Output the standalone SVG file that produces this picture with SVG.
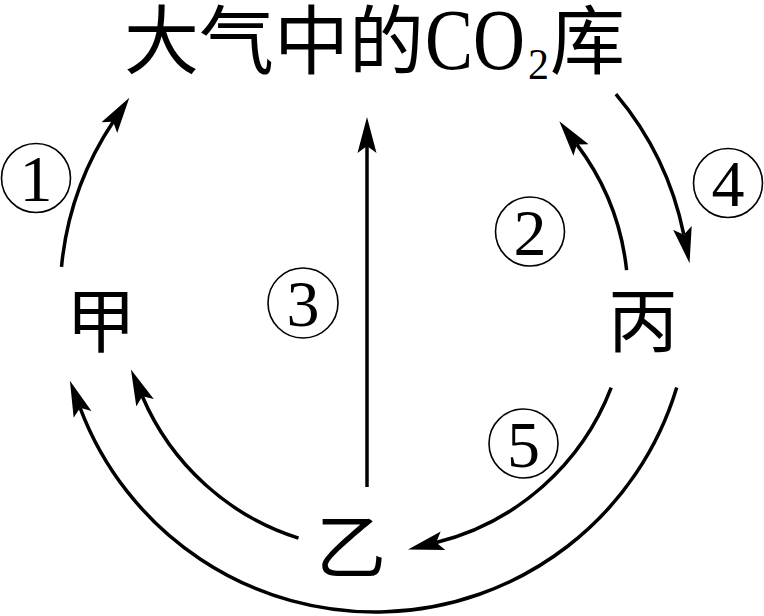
<svg xmlns="http://www.w3.org/2000/svg" width="764" height="616" viewBox="0 0 764 616">
<style>
.cjk{font-family:"Noto Sans CJK SC","Noto Sans CJK JP",sans-serif;fill:#000}
.lat{font-family:"Liberation Serif","Times New Roman",serif;fill:#000}
.conn{fill:none;stroke:#000;stroke-width:3.5;marker-end:url(#ah)}
.ring{fill:none;stroke:#000;stroke-width:1.6}
.num{font-family:"Liberation Serif","Times New Roman",serif;font-size:66px;text-anchor:middle;fill:#000}
</style>
<defs>
<marker id="ah" markerUnits="userSpaceOnUse" markerWidth="40" markerHeight="24" viewBox="0 -12 40 24" refX="7" refY="0" orient="auto">
<path d="M36,0 L0,-9.5 L7,0 L0,9.5 Z" fill="#000"/>
</marker>
</defs>
<rect width="764" height="616" fill="#fff"/>
<g id="atm">
<text class="cjk" x="124" y="68" font-size="75">大气中的</text>
<text class="lat" x="425" y="69" font-size="86" textLength="100" lengthAdjust="spacingAndGlyphs">CO</text>
<text class="lat" x="528" y="79" font-size="44" textLength="21" lengthAdjust="spacingAndGlyphs">2</text>
<text class="cjk" x="550" y="68" font-size="75">库</text>
</g>
<g id="jia"><text class="cjk" x="101" y="347" font-size="70" text-anchor="middle">甲</text></g>
<g id="bing"><text class="cjk" x="643" y="347" font-size="70" text-anchor="middle">丙</text></g>
<g id="yi"><text class="cjk" x="351" y="573" font-size="70" text-anchor="middle">乙</text></g>
<g id="connectors">
<path class="conn" d="M61.5,266.8 A315,315 0 0 1 113.2,121.8"/>
<path class="conn" d="M615.9,94.1 A315,315 0 0 1 683.8,234.7"/>
<path class="conn" d="M676.7,387.5 A315,315 0 0 1 80.1,407.8"/>
<path class="conn" d="M626.6,270.1 A253,253 0 0 0 576.8,144.4"/>
<path class="conn" d="M611.2,387.7 A253,253 0 0 1 436.2,542.5"/>
<path class="conn" d="M298.5,538.2 A253,253 0 0 1 142.3,396.3"/>
<path class="conn" d="M367,487 L367,146"/>
</g>
<g id="labels">
<g id="l1"><circle class="ring" cx="36" cy="178" r="34.5"/><text class="num" x="36" y="201">1</text></g>
<g id="l2"><circle class="ring" cx="530" cy="231.5" r="34.5"/><text class="num" x="530" y="254.5">2</text></g>
<g id="l3"><circle class="ring" cx="303" cy="303" r="35"/><text class="num" x="303" y="326">3</text></g>
<g id="l4"><circle class="ring" cx="728" cy="183" r="34.5"/><text class="num" x="728" y="206">4</text></g>
<g id="l5"><circle class="ring" cx="523.5" cy="443.5" r="34.5"/><text class="num" x="523.5" y="466.5">5</text></g>
</g>
</svg>
